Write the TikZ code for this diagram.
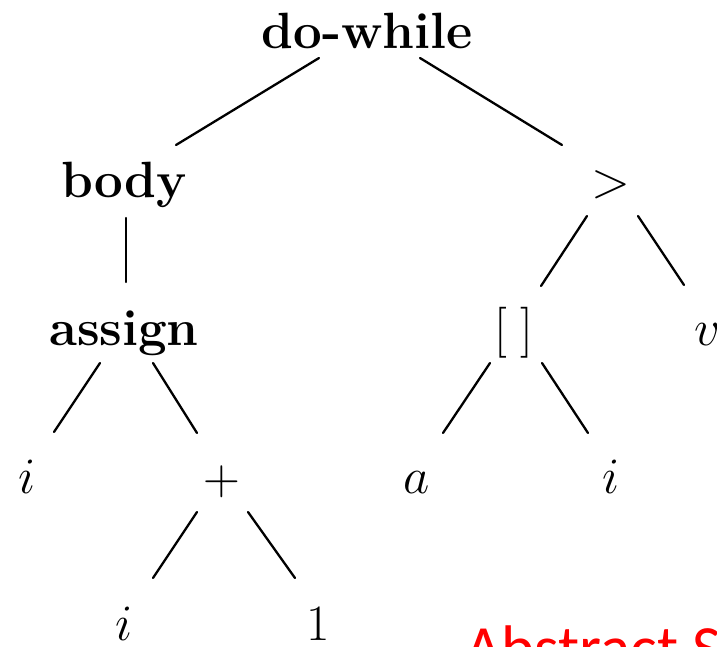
\documentclass[tikz,border=0pt]{standalone}
\usepackage{fix-cm}
\usepackage{fontspec}
\newfontfamily\capfont{Carlito}
\begin{document}
\begin{tikzpicture}[x=1pt,y=-1pt,
  lbl/.style={inner sep=0pt,anchor=base,font=\fontsize{51}{60}\selectfont},
  kw/.style={lbl,font=\fontsize{51}{60}\selectfont\bfseries},
  edge/.style={line width=2.3pt,line cap=round}]
\useasboundingbox (0,0) rectangle (717,646);
\clip (0,0) rectangle (717,646);

% tree labels
\node[kw]  (dowhile) at (367,48)  {do-while};
\node[kw]  (body)    at (124,197) {body};
\node[lbl] (gt)      at (611,197) {$>$};
\node[kw]  (assign)  at (124,345) {assign};
\node[lbl] (br)      at (514,345) {[\hspace{0.25em}]};
\node[lbl,anchor=base west] (v) at (694,345) {$v$};
\node[lbl] (iL)      at (27,493)  {$i$};
\node[lbl] (plus)    at (222,494) {$+$};
\node[lbl] (a)       at (417,493) {$a$};
\node[lbl] (iR)      at (611,493) {$i$};
\node[lbl] (iB)      at (124,640) {$i$};
\node[lbl] (one)     at (318,640) {$1$};

% branches
\draw[edge] ([shift={(-48,10)}]dowhile.base) -- ([shift={(52,-52)}]body.base);
\draw[edge] ([shift={(53,10)}]dowhile.base)  -- ([shift={(-49,-52)}]gt.base);
\draw[edge] ([shift={(2,21)}]body.base)      -- ([shift={(2,-63)}]assign.base);
\draw[edge] ([shift={(-24,19)}]gt.base)      -- ([shift={(27,-59)}]br.base);
\draw[edge] ([shift={(27,19)}]gt.base)       -- ([shift={(-10,-60)}]v.base west);
\draw[edge] ([shift={(-24,18)}]assign.base)  -- ([shift={(27,-61)}]iL.base);
\draw[edge] ([shift={(29,18)}]assign.base)   -- ([shift={(-25,-61)}]plus.base);
\draw[edge] ([shift={(-24,18)}]br.base)      -- ([shift={(26,-60)}]a.base);
\draw[edge] ([shift={(28,18)}]br.base)       -- ([shift={(-23,-60)}]iR.base);
\draw[edge] ([shift={(-25,18)}]plus.base)    -- ([shift={(29,-62)}]iB.base);
\draw[edge] ([shift={(26,18)}]plus.base)     -- ([shift={(-23,-62)}]one.base);

% caption
\node[inner sep=0pt,anchor=base west,text=red,font=\capfont\fontsize{63}{70}\selectfont]
  (caption) at (465,669) {Abstract Syntax Tree};
\end{tikzpicture}
\end{document}
